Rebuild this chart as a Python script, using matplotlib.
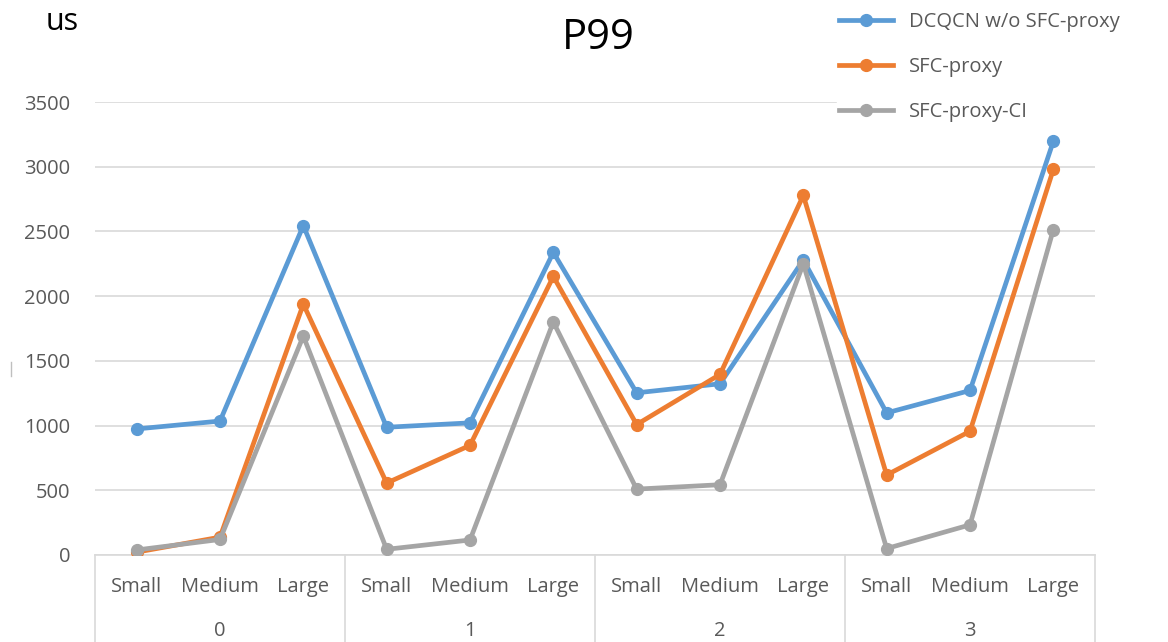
import matplotlib
matplotlib.use("Agg")
import matplotlib.pyplot as plt
from matplotlib.lines import Line2D
from matplotlib.transforms import blended_transform_factory

# === DATA ===
groups = ["0", "1", "2", "3"]
sizes = ["Small", "Medium", "Large"]
dcqcn = [974, 1035, 2545, 987, 1021, 2338, 1253, 1323, 2280, 1098, 1271, 3196]
sfc_proxy = [22, 138, 1938, 556, 847, 2152, 1008, 1395, 2778, 618, 956, 2979]
sfc_proxy_ci = [39, 120, 1692, 44, 116, 1800, 509, 543, 2250, 50, 233, 2514]
series_names = ["DCQCN w/o SFC-proxy", "SFC-proxy", "SFC-proxy-CI"]
y_ticks = [0, 500, 1000, 1500, 2000, 2500, 3000, 3500]

# === STYLE ===
COLORS = ["#5B9BD5", "#ED7D31", "#A5A5A5"]
GRID = "#D9D9D9"
TEXT = "#595959"
FONT = ["Open Sans", "DejaVu Sans"]
FS = 14.5
plt.rcParams["font.family"] = FONT

fig = plt.figure(figsize=(11.68, 6.42), dpi=100)
ax = fig.add_axes([95 / 1168, 1 - 555 / 642, 1000 / 1168, 453 / 642])

labels = [s for g in groups for s in sizes]
xs = list(range(len(labels)))

for vals, col, name in zip([dcqcn, sfc_proxy, sfc_proxy_ci], COLORS, series_names):
    ax.plot(xs, vals, color=col, lw=3.4, marker="o", ms=8.5, label=name,
            solid_joinstyle="round", zorder=3)

ax.set_xlim(-0.5, len(labels) - 0.5)
ax.set_ylim(0, 3500)
ax.set_yticks(y_ticks)
ax.set_yticklabels([str(t) for t in y_ticks], color=TEXT, fontsize=FS)
ax.tick_params(axis="y", length=0, pad=18)
ax.yaxis.grid(True, color=GRID, lw=1.2)
ax.set_axisbelow(True)

ax.set_xticks(xs)
ax.set_xticklabels(labels, color=TEXT, fontsize=FS)
ax.tick_params(axis="x", length=0, pad=16)

for side in ["left", "right", "top"]:
    ax.spines[side].set_visible(False)
ax.spines["bottom"].set_color(GRID)
ax.spines["bottom"].set_linewidth(1.2)

# group labels and separators under the axis
trans = blended_transform_factory(ax.transData, ax.transAxes)
for i, g in enumerate(groups):
    ax.text(i * 3 + 1, -0.167, g, transform=trans, ha="center", va="center",
            color=TEXT, fontsize=FS)
for b in range(len(groups) + 1):
    ax.add_line(Line2D([b * 3 - 0.5, b * 3 - 0.5], [0, -0.2], transform=trans,
                       color=GRID, lw=1.2, clip_on=False))

# titles
fig.text(598 / 1168, 1 - 38 / 642, "P99", ha="center", va="center",
         fontsize=30, color="black")
fig.text(46 / 1168, 1 - 22 / 642, "us", ha="left", va="center",
         fontsize=22, color="black")

# small stray mark at the left edge
fig.add_artist(Line2D([11 / 1168, 11 / 1168], [1 - 362 / 642, 1 - 376 / 642],
                      color="#BFBFBF", lw=1))

leg = fig.legend(loc="upper left", bbox_to_anchor=(827 / 1168, 1.0),
                 frameon=True, fontsize=FS, handlelength=2.7,
                 handletextpad=0.8, labelspacing=1.25, borderpad=0.08)
leg.get_frame().set_facecolor("white")
leg.get_frame().set_edgecolor("white")
leg.get_frame().set_alpha(1)
for t in leg.get_texts():
    t.set_color(TEXT)

fig.savefig("out.png", dpi=100)
